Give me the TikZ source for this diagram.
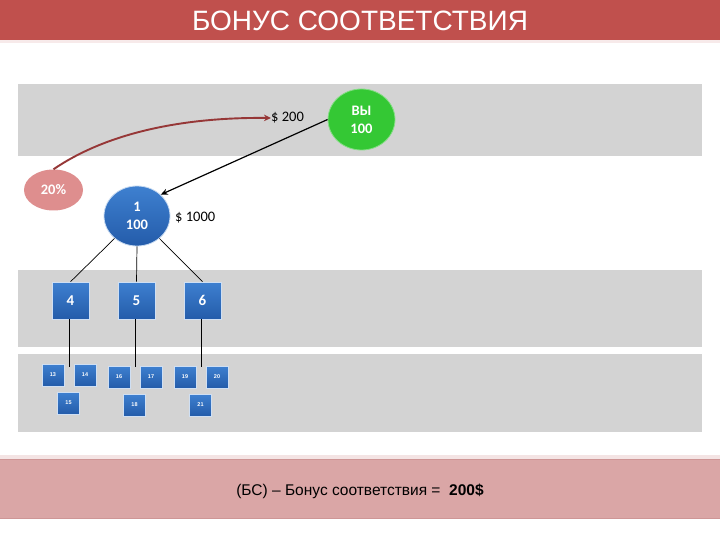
\documentclass[tikz,border=0pt]{standalone}
\usepackage{fontspec}
\setmainfont{Liberation Sans}
\newfontfamily\carl{Carlito}
\usetikzlibrary{shapes.geometric,arrows.meta}
\definecolor{titlered}{RGB}{192,80,77}
\definecolor{bandgray}{RGB}{211,211,211}
\definecolor{yougreen}{RGB}{52,200,52}
\definecolor{pinkel}{RGB}{222,142,142}
\definecolor{bluetop}{RGB}{62,128,208}
\definecolor{bluebot}{RGB}{36,92,170}
\definecolor{barpink}{RGB}{218,166,166}
\definecolor{barline}{RGB}{206,150,150}
\definecolor{arrowred}{RGB}{150,55,55}
\tikzset{
  band/.style={fill=bandgray, draw=none},
  bluebox/.style={rectangle, top color=bluetop, bottom color=bluebot, draw=white!75!bluetop, line width=0.6pt, inner sep=0pt, text=white},
  bigbox/.style={bluebox, minimum width=37pt, minimum height=37pt, font=\carl\bfseries\fontsize{15}{15}\selectfont},
  smallbox/.style={bluebox, minimum width=22pt, minimum height=22pt, font=\bfseries\fontsize{5.5}{6}\selectfont},
  oval/.style={ellipse, inner sep=0pt, text=white, align=center, font=\carl\bfseries\fontsize{14.5}{18}\selectfont},
  lbl/.style={anchor=west, inner sep=0pt, font=\carl\fontsize{14.5}{16}\selectfont},
  tree/.style={draw=black, line width=0.7pt}
}
\begin{document}
\begin{tikzpicture}[x=1pt,y=-1pt]
\useasboundingbox (0,0) rectangle (720,540);
\fill[white] (0,0) rectangle (720,540);
% title bar
\fill[titlered] (0,0) rectangle (720,40);
\fill[titlered!12] (0,40) rectangle (720,43);
\node[text=white, font=\fontsize{28}{30}\selectfont, inner sep=0pt] (title) at (360,21) {БОНУС СООТВЕТСТВИЯ};
% bands
\fill[band] (18,84) rectangle (702,156);
\fill[band] (18,270) rectangle (702,347);
\fill[band] (18,354) rectangle (702,432);
% bottom bar
\fill[barpink!30] (0,455) rectangle (720,459);
\fill[barpink] (0,459) rectangle (720,519);
\draw[barline, line width=0.8pt] (0,459.5) -- (720,459.5);
\draw[barline, line width=0.8pt] (0,518.5) -- (720,518.5);
\node[inner sep=0pt, font=\fontsize{15.5}{17}\selectfont] (bs) at (360,491) {(БС) – Бонус соответствия =\ \ \textbf{200\$}};
% nodes
\node[oval, fill=yougreen, draw=yougreen!60!white, line width=0.8pt, minimum width=67pt, minimum height=61pt] (you) at (361.5,119.5) {ВЫ\\100};
\node[oval, fill=pinkel, minimum width=59pt, minimum height=41pt] (pct) at (53.5,190) {20\%};
\node[oval, top color=bluetop, bottom color=bluebot, draw=white!70!bluetop, line width=0.8pt, minimum width=66pt, minimum height=60pt] (one) at (137,216) {1\\100};
\node[lbl] (d200) at (271,118) {\$ 200};
\node[lbl] (d1000) at (175,218) {\$ 1000};
% level 2
\node[bigbox] (b4) at (70.5,300.5) {4};
\node[bigbox] (b5) at (136.5,300.5) {5};
\node[bigbox] (b6) at (202.5,300.5) {6};
% level 3
\node[smallbox] (s13) at (53,375) {13};
\node[smallbox] (s14) at (85,375) {14};
\node[smallbox] (s15) at (68.5,403) {15};
\node[smallbox] (s16) at (119,377) {16};
\node[smallbox] (s17) at (151,377) {17};
\node[smallbox] (s18) at (134.5,405) {18};
\node[smallbox] (s19) at (185,377) {19};
\node[smallbox] (s20) at (217,377) {20};
\node[smallbox] (s21) at (200.5,405) {21};
\coordinate (e4) at (69,367);
\coordinate (e5) at (135,367);
\coordinate (e6) at (201.5,367);
% connectors
\draw[arrowred, line width=1.9pt, -{Stealth[length=7pt,width=6.5pt]}] (pct.north) .. controls (105,134) and (180,117) .. (d200.west);
\draw[black, line width=1.2pt, -{Stealth[length=7pt,width=6pt]}] (you.west) -- (one.42);
\draw[tree] (one.225) -- (b4.north);
\draw[tree] (one.south) -- (b5.north);
\draw[tree] (one.-45) -- (b6.north);
\draw[tree, line width=1pt] (b4.south -| e4) -- (e4);
\draw[tree, line width=1pt] (b5.south -| e5) -- (e5);
\draw[tree, line width=1pt] (b6.south -| e6) -- (e6);
\end{tikzpicture}
\end{document}
